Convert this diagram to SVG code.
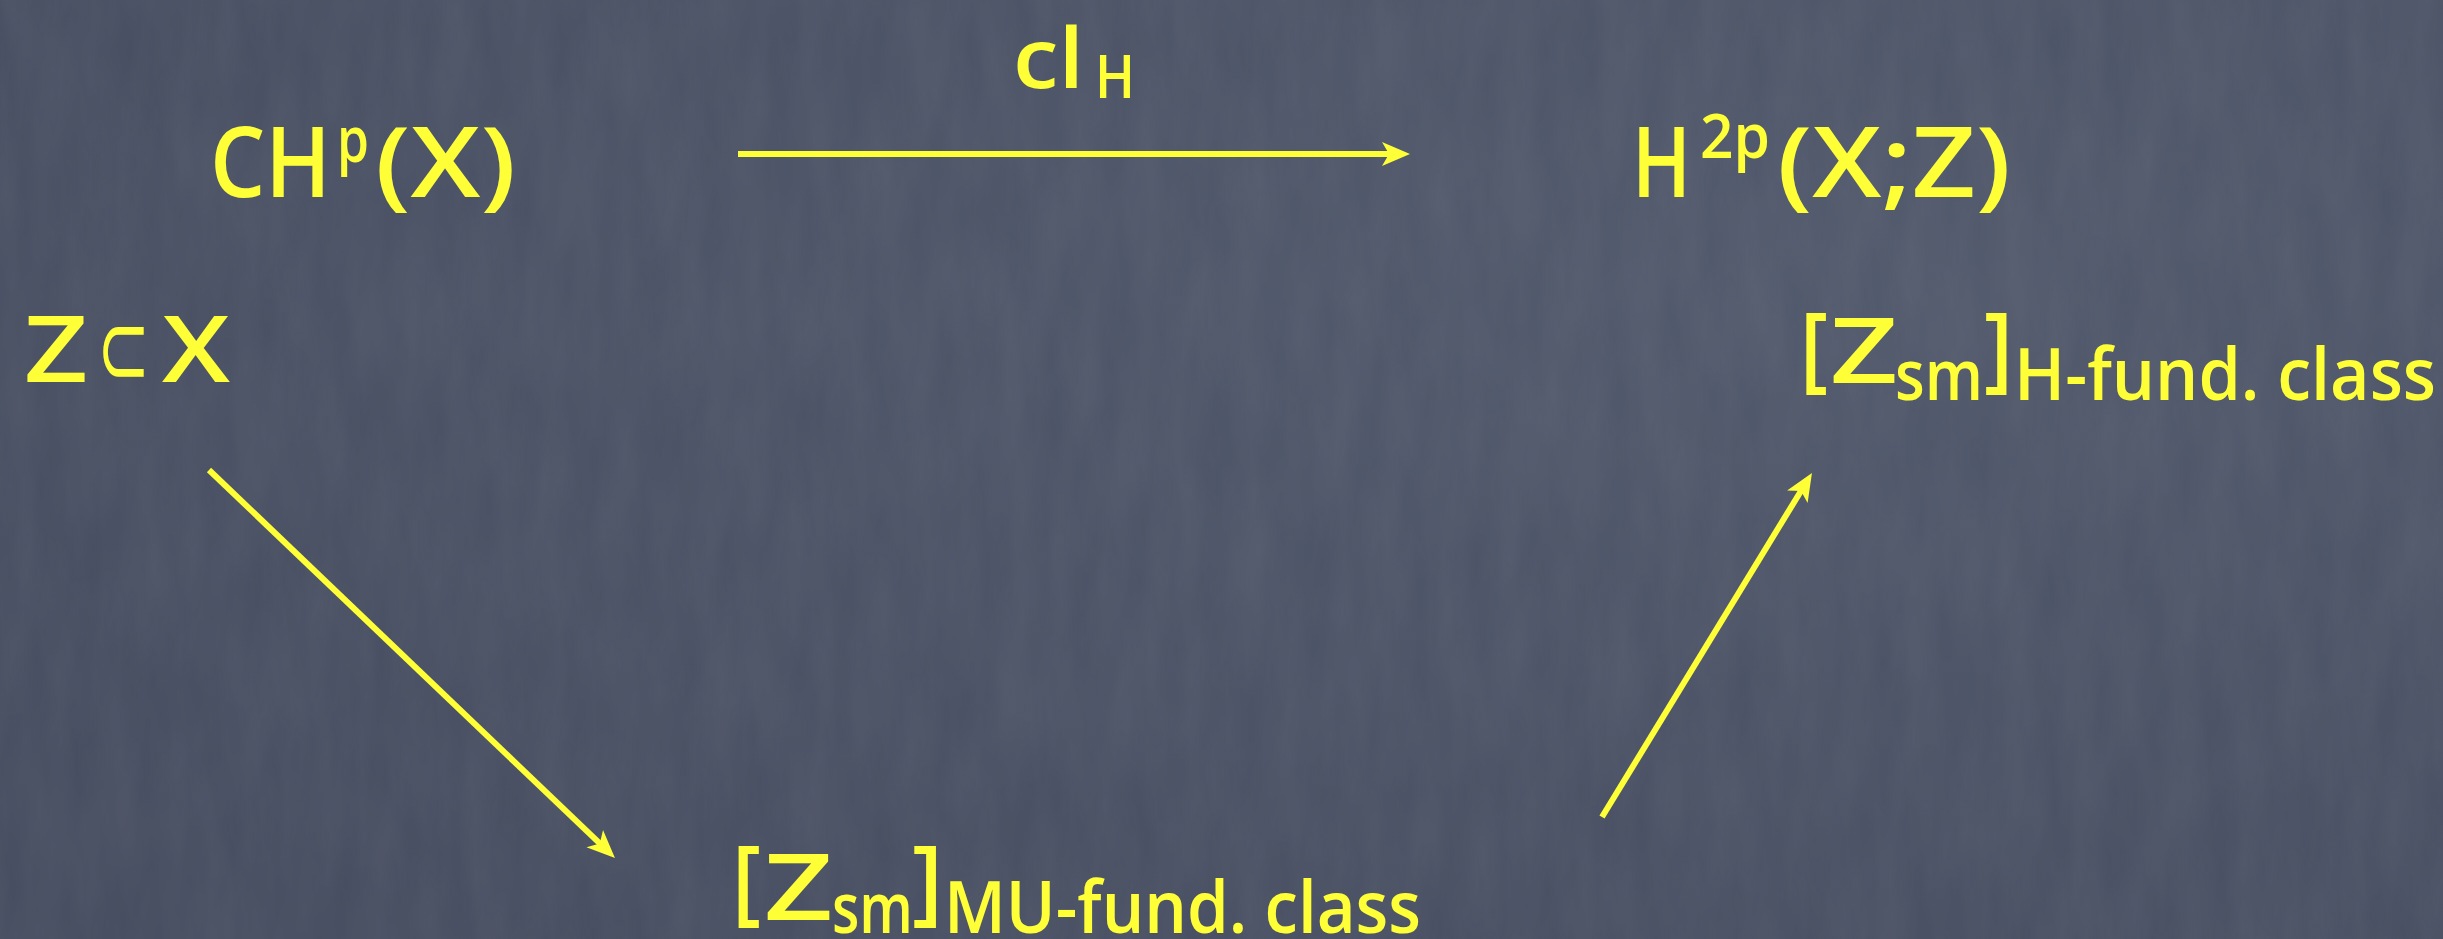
<svg xmlns="http://www.w3.org/2000/svg" width="2443" height="939" viewBox="0 0 2443 939">
  <defs>
    <radialGradient id="bg" cx="0.75" cy="0.3" r="0.9">
      <stop offset="0" stop-color="#50586b"/>
      <stop offset="1" stop-color="#454c5f"/>
    </radialGradient>
    <filter id="noise" x="0" y="0" width="100%" height="100%">
      <feTurbulence type="fractalNoise" baseFrequency="0.03 0.008" numOctaves="4" seed="7"/>
      <feColorMatrix type="matrix" values="0 0 0 0 1  0 0 0 0 1  0 0 0 0 1  0 0 0 0.06 0"/>
    </filter>
    <marker id="ah" markerUnits="userSpaceOnUse" markerWidth="36" markerHeight="30" viewBox="-2 -15 36 30" refX="16" refY="0" orient="auto">
      <path d="M0,-12 L28,0 L0,12 L7,0 Z" fill="#ffff38"/>
    </marker>
    <style>
      text { fill: #ffff38; font-family: "Open Sans", "Noto Sans", "DejaVu Sans", sans-serif; font-weight: 600; }
      .sym { font-family: "DejaVu Sans", sans-serif; font-weight: normal; }
      .conn { stroke: #ffff38; stroke-width: 6; fill: none; marker-end: url(#ah); }
    </style>
  </defs>
  <rect width="2443" height="939" fill="url(#bg)"/>
  <rect width="2443" height="939" filter="url(#noise)"/>

  <g id="connectors">
    <line class="conn" x1="738" y1="154" x2="1398" y2="154"/>
    <line class="conn" x1="209" y1="470" x2="606.3" y2="849.7"/>
    <line class="conn" x1="1602" y1="817" x2="1805.7" y2="483.2"/>
  </g>

  <g id="label-clH">
    <text x="1013" y="88" font-size="84" textLength="71" lengthAdjust="spacingAndGlyphs">cl</text>
    <text x="1095" y="98" font-size="60" textLength="40" lengthAdjust="spacingAndGlyphs">H</text>
  </g>

  <g id="node-CHp">
    <text x="210" y="197" font-size="97" textLength="121" lengthAdjust="spacingAndGlyphs">CH</text>
    <text x="337" y="162" font-size="64" textLength="32" lengthAdjust="spacingAndGlyphs">p</text>
    <text x="375" y="197" font-size="97" textLength="141" lengthAdjust="spacingAndGlyphs">(X)</text>
  </g>

  <g id="node-H2p">
    <text x="1632" y="197" font-size="97" textLength="59" lengthAdjust="spacingAndGlyphs">H</text>
    <text x="1700" y="158" font-size="62" textLength="70" lengthAdjust="spacingAndGlyphs">2p</text>
    <text x="1777" y="197" font-size="97" textLength="234" lengthAdjust="spacingAndGlyphs">(X;Z)</text>
  </g>

  <g id="node-ZsubsetX">
    <text x="24" y="382" font-size="92" textLength="64" lengthAdjust="spacingAndGlyphs">Z</text>
    <text class="sym" x="97" y="385" font-size="106" textLength="53" lengthAdjust="spacingAndGlyphs">⊂</text>
    <text x="162" y="382" font-size="92" textLength="68" lengthAdjust="spacingAndGlyphs">X</text>
  </g>

  <g id="node-H-fund">
    <text x="1800" y="380" font-size="95" textLength="28" lengthAdjust="spacingAndGlyphs">[</text>
    <text x="1830" y="383" font-size="90" textLength="68" lengthAdjust="spacingAndGlyphs">Z</text>
    <text x="1895" y="400" font-size="70" textLength="88" lengthAdjust="spacingAndGlyphs">sm</text>
    <text x="1984" y="380" font-size="95" textLength="29" lengthAdjust="spacingAndGlyphs">]</text>
    <text x="2014" y="400" font-size="72" textLength="422" lengthAdjust="spacingAndGlyphs">H-fund. class</text>
  </g>

  <g id="node-MU-fund">
    <text x="732" y="913" font-size="94" textLength="29" lengthAdjust="spacingAndGlyphs">[</text>
    <text x="764" y="920" font-size="92" textLength="69" lengthAdjust="spacingAndGlyphs">Z</text>
    <text x="832" y="933" font-size="70" textLength="81" lengthAdjust="spacingAndGlyphs">sm</text>
    <text x="912" y="913" font-size="94" textLength="31" lengthAdjust="spacingAndGlyphs">]</text>
    <text x="944" y="933" font-size="72" textLength="477" lengthAdjust="spacingAndGlyphs">MU-fund. class</text>
  </g>
</svg>
